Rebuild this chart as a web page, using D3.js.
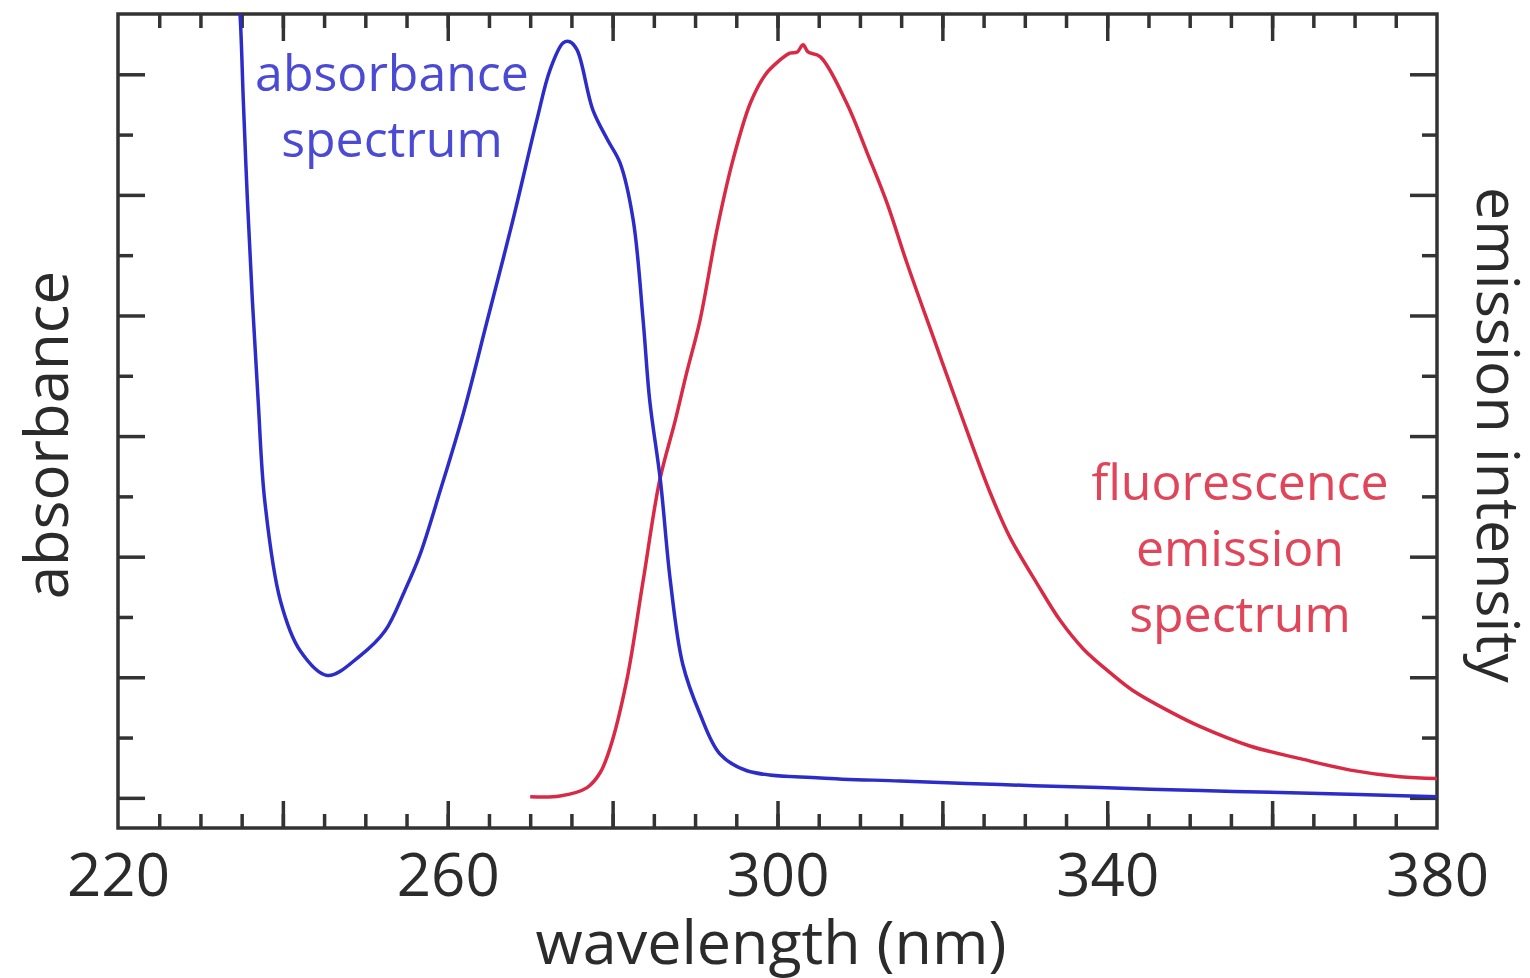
<!DOCTYPE html>
<html>
<head>
<title>Absorbance and fluorescence emission spectra</title>
<style type="text/css">
  body { margin: 0; background-color: #ffffff; }
  svg text { font-family: "Open Sans", "Noto Sans", sans-serif; }
  .frame { fill: none; stroke: #333; stroke-width: 3.5; }
  .tick line { stroke: #333; stroke-width: 3.5; }
  .domain { display: none; }
</style>
<script src="https://d3js.org/d3.v7.min.js"></script>
</head>
<body>
<svg width="1530" height="978"></svg>
<script>
// absorbance spectrum (blue), arbitrary units
var absWavelength = [234.4, 234.8, 235.2, 235.7, 236.3, 237.0, 237.8, 239.7, 242.1, 245.4, 249.4, 252.4, 254.8, 256.6, 259.1, 261.9, 264.8, 267.9, 270.8, 272.4, 274.0, 274.8, 275.7, 277.6, 279.4, 280.9, 282.5, 283.7, 284.5, 285.8, 287.0, 288.5, 290.6, 293.0, 296.3, 305.2, 314.9, 327.0, 339.1, 351.3, 363.4, 380.0];
var absValues     = [13.6, 13.0, 11.57, 9.91, 8.25, 6.59, 4.93, 3.27, 2.44, 2.03, 2.36, 2.77, 3.44, 4.02, 5.10, 6.38, 7.92, 9.58, 11.24, 12.07, 12.52, 12.54, 12.40, 11.41, 10.91, 10.53, 9.58, 7.92, 6.59, 5.26, 3.60, 2.22, 1.39, 0.73, 0.45, 0.33, 0.28, 0.22, 0.17, 0.12, 0.08, 0.02];

// fluorescence emission spectrum (red), arbitrary units
var emWavelength = [270.0, 273.6, 276.9, 278.5, 279.7, 281.7, 283.7, 285.7, 287.6, 289.0, 290.6, 292.7, 294.6, 296.7, 298.5, 299.9, 301.5, 302.4, 303.1, 303.7, 305.2, 308.4, 310.9, 313.3, 315.7, 318.9, 322.1, 325.8, 328.2, 331.5, 334.3, 337.1, 340.3, 343.1, 347.6, 351.3, 357.3, 363.4, 369.5, 375.5, 380.0];
var emValues     = [0.02, 0.03, 0.17, 0.42, 0.83, 1.94, 3.60, 5.26, 6.26, 7.06, 7.92, 9.45, 10.58, 11.52, 11.99, 12.19, 12.35, 12.37, 12.49, 12.37, 12.29, 11.52, 10.69, 9.86, 8.87, 7.64, 6.42, 5.06, 4.32, 3.55, 2.94, 2.47, 2.08, 1.78, 1.43, 1.18, 0.86, 0.65, 0.46, 0.35, 0.32];

var xTickLabels = [220, 260, 300, 340, 380];
var xMajorTicks = [240, 260, 280, 300, 320, 340, 360];
var xMinorTicks = d3.range(225, 380, 5);
var yMajorTicks = [0, 2, 4, 6, 8, 10, 12];
var yMinorTicks = [1, 3, 5, 7, 9, 11];

var svg = d3.select("svg"),
    margin = {top: 14, right: 93, bottom: 150, left: 118},
    width = +svg.attr("width") - margin.left - margin.right,
    height = +svg.attr("height") - margin.top - margin.bottom;

var x = d3.scaleLinear().domain([220, 380]).range([0, width]),
    y = d3.scaleLinear().domain([-0.5, 13]).range([height, 0]);

var g = svg.append("g")
    .attr("transform", "translate(" + margin.left + "," + margin.top + ")");

svg.append("defs").append("clipPath").attr("id", "plotclip")
  .append("rect").attr("width", width).attr("height", height);

// inward ticks on all four sides
function ticks(axis, values, size, tx, ty) {
  g.append("g")
    .attr("transform", "translate(" + tx + "," + ty + ")")
    .call(axis.tickValues(values).tickSize(-size).tickFormat(""));
}
ticks(d3.axisBottom(x), xMinorTicks, 14, 0, height);
ticks(d3.axisBottom(x), xMajorTicks, 27, 0, height);
ticks(d3.axisTop(x), xMinorTicks, 14, 0, 0);
ticks(d3.axisTop(x), xMajorTicks, 27, 0, 0);
ticks(d3.axisLeft(y), yMinorTicks, 15, 0, 0);
ticks(d3.axisLeft(y), yMajorTicks, 27, 0, 0);
ticks(d3.axisRight(y), yMinorTicks, 15, width, 0);
ticks(d3.axisRight(y), yMajorTicks, 27, width, 0);

// x tick labels
var xl = g.append("g")
    .attr("transform", "translate(0," + height + ")")
    .call(d3.axisBottom(x).tickValues(xTickLabels).tickSize(0).tickPadding(25).tickFormat(d3.format("d")));
xl.selectAll("text").style("font-size", "60px").attr("fill", "#2b2b2b");

g.append("rect").attr("class", "frame").attr("width", width).attr("height", height);

var line = d3.line()
    .x(function(d) { return x(d[0]); })
    .y(function(d) { return y(d[1]); })
    .curve(d3.curveCatmullRom.alpha(0.5));

var plot = g.append("g").attr("clip-path", "url(#plotclip)");

plot.append("path")
    .datum(d3.zip(emWavelength, emValues))
    .attr("fill", "none")
    .attr("stroke", "#d92a45")
    .attr("stroke-width", 3.5)
    .attr("d", line);

plot.append("path")
    .datum(d3.zip(absWavelength, absValues))
    .attr("fill", "none")
    .attr("stroke", "#2c2cc8")
    .attr("stroke-width", 3.5)
    .attr("d", line);

// axis titles
svg.append("text")
    .attr("x", 771).attr("y", 964)
    .style("text-anchor", "middle")
    .style("font-size", "61px")
    .attr("fill", "#2b2b2b")
    .text("wavelength (nm)");

svg.append("text")
    .attr("transform", "translate(68,435) rotate(-90)")
    .style("text-anchor", "middle")
    .style("font-size", "60px")
    .attr("fill", "#2b2b2b")
    .text("absorbance");

svg.append("text")
    .attr("transform", "translate(1477,435) rotate(90)")
    .style("text-anchor", "middle")
    .style("font-size", "59px")
    .attr("fill", "#2b2b2b")
    .text("emission intensity");

// series labels
function label(lines, cx, y0, step, color) {
  var t = svg.append("text")
      .style("text-anchor", "middle")
      .style("font-size", "50px")
      .attr("fill", color);
  lines.forEach(function(s, i) {
    t.append("tspan").attr("x", cx).attr("y", y0 + i * step).text(s);
  });
}
label(["absorbance", "spectrum"], 392, 91, 66, "#4a4ad4");
label(["fluorescence", "emission", "spectrum"], 1240, 500, 66, "#e0455a");
</script>
</body>
</html>
